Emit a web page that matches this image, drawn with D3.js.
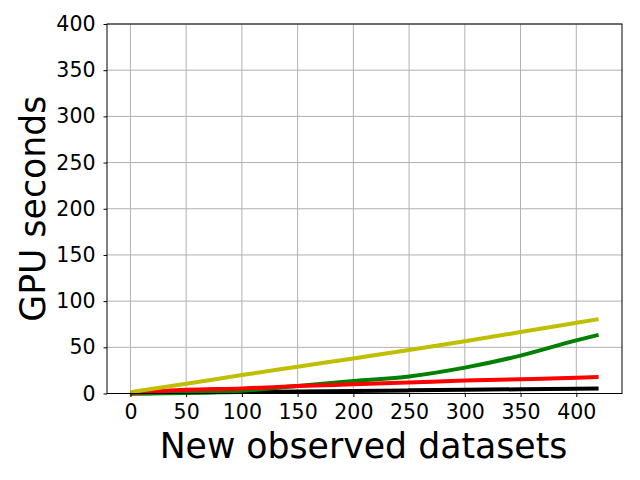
<!DOCTYPE html>
<html>
<head>
<meta charset="utf-8">
<script src="https://cdn.jsdelivr.net/npm/d3@7"></script>
<style>
  body { margin: 0; background: #fff; }
  svg { font-family: "DejaVu Sans", sans-serif; }
</style>
</head>
<body>
<svg width="640" height="480"></svg>
<script>
  const xs = [0, 50, 100, 150, 200, 250, 300, 350, 400, 420];
  const yellowVals = [1.5, 10.5, 20, 29, 38, 47, 56.5, 66.5, 76.5, 80.5];
  const greenVals = [0, 0.5, 3, 8, 13.5, 18.5, 28, 41, 57.5, 63.5];
  const redVals = [0.5, 4, 5.5, 8, 10, 12, 14, 15.5, 17, 17.8];
  const blackVals = [0, 1, 1.5, 2.2, 2.8, 3.4, 4, 4.6, 5.2, 5.5];
  const xTicks = [0, 50, 100, 150, 200, 250, 300, 350, 400];
  const yTicks = [0, 50, 100, 150, 200, 250, 300, 350, 400];

  const svg = d3.select("svg");
  const mLeft = 107, mRight = 622, mTop = 24, mBottom = 393.5;

  const x = d3.scaleLinear().domain([-21, 441]).range([mLeft, mRight]);
  const y = d3.scaleLinear().domain([0, 400]).range([mBottom, mTop]);

  // grid
  svg.append("g").selectAll("line").data(xTicks).enter().append("line")
      .attr("x1", d => x(d)).attr("x2", d => x(d))
      .attr("y1", mTop).attr("y2", mBottom)
      .attr("stroke", "#b0b0b0").attr("stroke-width", 1);
  svg.append("g").selectAll("line").data(yTicks).enter().append("line")
      .attr("x1", mLeft).attr("x2", mRight)
      .attr("y1", d => y(d)).attr("y2", d => y(d))
      .attr("stroke", "#b0b0b0").attr("stroke-width", 1);

  const series = [
    {vals: blackVals, color: "#000000"},
    {vals: greenVals, color: "#008000"},
    {vals: redVals, color: "#ff0000"},
    {vals: yellowVals, color: "#bfbf00"}
  ];
  const line = d3.line()
      .x((d, i) => x(xs[i]))
      .y(d => y(d))
      .curve(d3.curveMonotoneX);

  const plot = svg.append("g");
  series.forEach(s => {
    plot.append("path")
        .attr("d", line(s.vals))
        .attr("fill", "none")
        .attr("stroke", s.color)
        .attr("stroke-width", 4);
  });

  // frame
  svg.append("rect")
      .attr("x", mLeft).attr("y", mTop)
      .attr("width", mRight - mLeft).attr("height", mBottom - mTop)
      .attr("fill", "none").attr("stroke", "#000").attr("stroke-width", 1);

  const xAxis = svg.append("g")
      .attr("transform", `translate(0,${mBottom})`)
      .call(d3.axisBottom(x).tickValues(xTicks).tickSize(3.5).tickPadding(7));
  const yAxis = svg.append("g")
      .attr("transform", `translate(${mLeft},0)`)
      .call(d3.axisLeft(y).tickValues(yTicks).tickSize(3.5).tickPadding(8));
  [xAxis, yAxis].forEach(a => {
    a.select(".domain").remove();
    a.selectAll("text").attr("font-size", 20.5).attr("fill", "#000")
        .attr("font-family", "DejaVu Sans");
    a.selectAll("line").attr("stroke", "#000");
  });

  svg.append("text")
      .attr("x", (mLeft + mRight) / 2 - 1)
      .attr("y", 458)
      .attr("text-anchor", "middle")
      .attr("font-size", 34.7)
      .text("New observed datasets");

  svg.append("text")
      .attr("transform", `translate(45,${(mTop + mBottom) / 2}) rotate(-90)`)
      .attr("text-anchor", "middle")
      .attr("font-size", 34.7)
      .text("GPU seconds");
</script>
</body>
</html>
